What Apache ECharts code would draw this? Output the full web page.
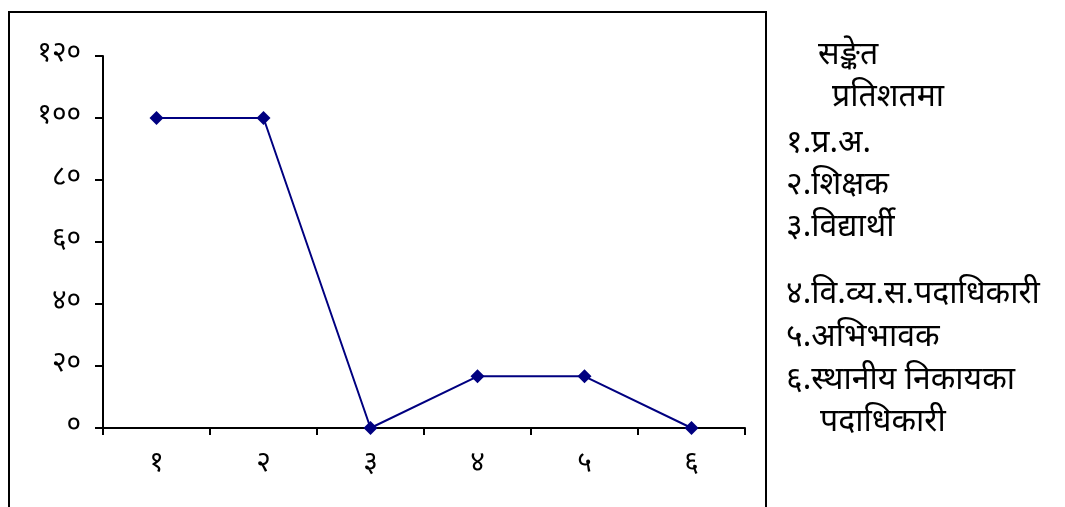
<!DOCTYPE html>
<html>
<head>
<meta charset="utf-8">
<script src="https://cdn.jsdelivr.net/npm/echarts@6/dist/echarts.min.js"></script>
<style>
  html, body { margin: 0; padding: 0; background: #fff; }
  #chart { width: 1065px; height: 507px; }
</style>
</head>
<body>
<div id="chart"></div>
<script>
// data
const categories = ["१", "२", "३", "४", "५", "६"];
const values = [100, 100, 0, 16.67, 16.67, 0];
const yTicks = [0, 20, 40, 60, 80, 100, 120];
const legendLines = [
  "सङ्केत",
  "प्रतिशतमा",
  "१.प्र.अ.",
  "२.शिक्षक",
  "३.विद्यार्थी",
  "४.वि.व्य.स.पदाधिकारी",
  "५.अभिभावक",
  "६.स्थानीय निकायका",
  "पदाधिकारी",
];

const devDigits = "०१२३४५६७८९";
const toDev = (n) => String(n).replace(/[0-9]/g, (d) => devDigits[+d]);

const font = "'Noto Sans Devanagari', 'Noto Sans', 'Lohit Devanagari', 'Mangal', sans-serif";

// legend text positions
const legendX = [818, 832, 786, 786, 786, 786, 786, 786, 820];
const legendY = [58, 100, 146, 188, 230, 297, 340, 383, 425];

const chart = echarts.init(document.getElementById("chart"));
chart.setOption({
  animation: false,
  backgroundColor: "#fff",
  grid: { left: 103, right: 320, top: 56, bottom: 79 },
  xAxis: {
    type: "category",
    data: categories,
    boundaryGap: true,
    axisLine: { lineStyle: { color: "#000", width: 2 } },
    axisTick: { show: true, length: 7, lineStyle: { color: "#000", width: 2 } },
    axisLabel: { color: "#000", fontSize: 28, fontFamily: font, margin: 24 },
    splitLine: { show: false },
  },
  yAxis: {
    type: "value",
    min: yTicks[0],
    max: yTicks[yTicks.length - 1],
    interval: 20,
    axisLine: { show: true, lineStyle: { color: "#000", width: 2 } },
    axisTick: { show: true, length: 8, lineStyle: { color: "#000", width: 2 } },
    axisLabel: {
      color: "#000",
      fontSize: 28,
      fontFamily: font,
      margin: 22,
      formatter: (v) => toDev(v),
    },
    splitLine: { show: false },
  },
  series: [
    {
      type: "line",
      data: values,
      symbol: "diamond",
      symbolSize: 14,
      itemStyle: { color: "#000080" },
      lineStyle: { color: "#000080", width: 2 },
    },
  ],
  graphic: [
    {
      type: "rect",
      shape: { x: 9, y: 12, width: 757, height: 510 },
      style: { fill: "none", stroke: "#000", lineWidth: 2 },
      z: 0,
    },
  ].concat(
    legendLines.map((t, i) => ({
      type: "text",
      x: legendX[i],
      y: legendY[i],
      style: {
        text: t,
        fontSize: 32,
        fontFamily: font,
        fill: "#000",
        textVerticalAlign: "middle",
      },
    }))
  ),
});
</script>
</body>
</html>
